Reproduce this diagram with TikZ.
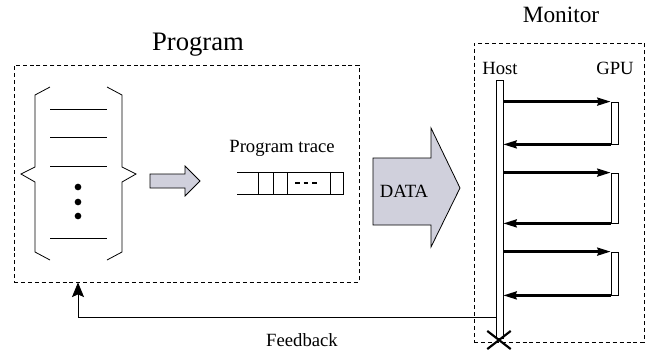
\documentclass[tikz,border=0pt]{standalone}
\usepackage{fontspec}
\setmainfont{Liberation Serif}
\usetikzlibrary{arrows.meta,fit,shapes.misc}
\definecolor{arrowgray}{RGB}{208,208,220}
\tikzset{
    % dashed frames round program and monitor
    frame/.style={draw,dash pattern=on 3pt off 2.2pt,inner sep=0pt,line width=0.6pt},
    bar/.style={draw,fill=white,inner sep=0pt,line width=0.6pt},
    call/.style={line width=1.7pt,-{Stealth[length=10pt,width=6pt,inset=1pt]}},
    flowarrow/.style={draw,fill=arrowgray,line width=0.6pt,line join=miter},
}

\begin{document}
\begin{tikzpicture}[x=0.75pt,y=-0.75pt,font=\fontsize{14}{16}\selectfont,line width=0.6pt]
    \useasboundingbox (0,0) rectangle (656,362);
    % program side
    \node[frame,fit={(14,65) (359,282)}] (program) {};
    \node[font=\fontsize{20}{24}\selectfont,anchor=base] (progtitle) at (198,50) {Program};
    \draw (50,87) -- (35,95) -- (35,167) -- (21,174) -- (35,182) -- (35,252) -- (50,260);
    \draw (107,87) -- (122,95) -- (122,167) -- (136,174) -- (122,182) -- (122,252) -- (107,260);
    \foreach \y in {109,137,166,238}
    \draw (50,\y) -- (107,\y);
    \foreach \y in {187,202,216}
    \fill (78,\y) circle [radius=2.5pt];
    \draw[flowarrow] (150,174) -- (185,174) -- (185,166) -- (200,181) -- (185,196) -- (185,188) -- (150,188) -- cycle;
    % trace buffer
    \node[anchor=base] (trace) at (282,152) {Program trace};
    \draw (237,172) -- (343,172) -- (343,194) -- (237,194);
    \foreach \x in {258,273,287,330}
    \draw (\x,172) -- (\x,194);
    \draw[line width=2pt,dash pattern=on 3.5pt off 3pt] (295,183) -- (319,183);
    % data
    \draw[flowarrow] (373,158) -- (431,158) -- (431,128) -- (460,188) -- (431,247) -- (431,225) -- (373,225) -- cycle;
    \node[anchor=base] (data) at (404,197) {DATA};
    % monitor side
    \node[frame,fit={(474,43) (644,342)}] (monitor) {};
    \node[font=\fontsize{17.5}{21}\selectfont,anchor=base] (montitle) at (561,22) {Monitor};
    \node[anchor=base] (hostlabel) at (500,74) {Host};
    \node[anchor=base] (gpulabel) at (615,74) {GPU};
    \node[bar,fit={(496,80) (503,338)}] (host) {};
    \foreach \t/\b [count=\i] in {102/144,173/223,252/295} {
        \node[bar,fit={(611,\t) (618,\b)}] (gpu\i) {};
        \draw[call] (host.east |- gpu\i.north) -- (gpu\i.north west);
        \draw[call] (gpu\i.south west) -- (host.east |- gpu\i.south);
    }
    \node[cross out,draw,line width=1.6pt,inner sep=0pt,minimum width=16pt,minimum height=12pt] (halt) at (499,340) {};
    % feedback
    \coordinate (fb) at (78,317);
    \draw[-{Stealth[length=11pt,width=9pt,inset=2pt]}] (host.west |- fb) -- (fb) -- (fb |- program.south);
    \node[anchor=base] (feedback) at (302,346) {Feedback};
\end{tikzpicture}
\end{document}
